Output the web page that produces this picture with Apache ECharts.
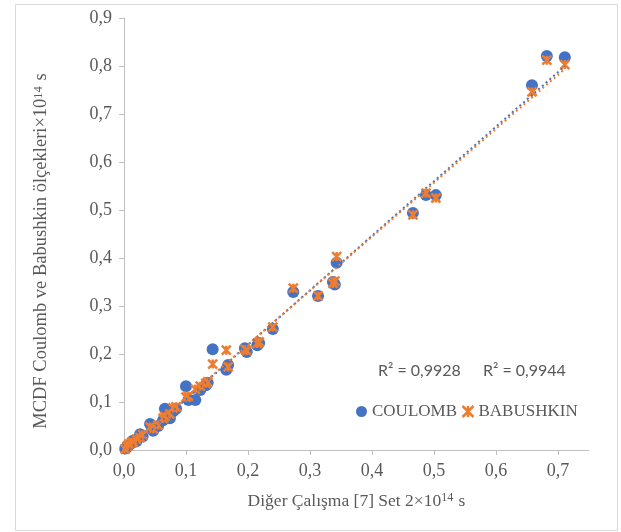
<!DOCTYPE html>
<html>
<head>
<meta charset="utf-8">
<script src="https://cdn.jsdelivr.net/npm/echarts@6/dist/echarts.min.js"></script>
<style>
  html, body { margin: 0; padding: 0; background: #fff; }
  #chart { width: 621px; height: 532px; }
</style>
</head>
<body>
<div id="chart"></div>
<script>
// x: Diğer Çalışma [7] Set 2
const xVals = [0.002, 0.005, 0.008, 0.012, 0.015, 0.020, 0.026, 0.030, 0.042, 0.047,
    0.055, 0.063, 0.066, 0.074, 0.079, 0.084, 0.100, 0.104, 0.115, 0.123,
    0.132, 0.135, 0.143, 0.165, 0.168, 0.195, 0.198, 0.215, 0.218, 0.240,
    0.273, 0.313, 0.337, 0.340, 0.343, 0.466, 0.487, 0.503, 0.658, 0.682, 0.711];
const coulomb = [0.003, 0.006, 0.010, 0.014, 0.020, 0.018, 0.033, 0.028, 0.054, 0.040,
    0.050, 0.062, 0.086, 0.066, 0.080, 0.086, 0.133, 0.104, 0.104, 0.125,
    0.135, 0.140, 0.210, 0.167, 0.177, 0.212, 0.204, 0.218, 0.223, 0.252,
    0.329, 0.321, 0.350, 0.345, 0.390, 0.494, 0.531, 0.531, 0.760, 0.821, 0.818];
const babushkin = [0.002, 0.008, 0.012, 0.016, 0.016, 0.022, 0.026, 0.032, 0.048, 0.044,
    0.052, 0.066, 0.070, 0.075, 0.088, 0.090, 0.110, 0.112, 0.127, 0.133,
    0.139, 0.142, 0.179, 0.208, 0.173, 0.210, 0.207, 0.222, 0.225, 0.256,
    0.337, 0.321, 0.347, 0.352, 0.403, 0.490, 0.535, 0.525, 0.746, 0.812, 0.803];
const r2Labels = ['R² = 0,9928', 'R² = 0,9944'];

const BLUE = '#4472C4';
const ORANGE = '#ED7D31';
const GREY = '#595959';
const STAR = 'path://M0,0L10,10M10,0L0,10M5,0L5,10';

function comma(v, d) {
    return v.toFixed(d).replace('.', ',');
}

// least squares trend line over the x range
function trend(xs, ys) {
    const n = xs.length;
    let sx = 0, sy = 0, sxx = 0, sxy = 0;
    for (let i = 0; i < n; i++) {
        sx += xs[i]; sy += ys[i]; sxx += xs[i] * xs[i]; sxy += xs[i] * ys[i];
    }
    const b = (n * sxy - sx * sy) / (n * sxx - sx * sx);
    const a = (sy - b * sx) / n;
    const x0 = Math.min(...xs), x1 = Math.max(...xs);
    return [[x0, a + b * x0], [x1, a + b * x1]];
}

const pairs = (ys) => xVals.map((x, i) => [x, ys[i]]);

const chart = echarts.init(document.getElementById('chart'));

const option = {
    animation: false,
    backgroundColor: '#fff',
    grid: {left: 124, right: 32, top: 18, bottom: 82},
    xAxis: {
        type: 'value', min: 0, max: 0.75, interval: 0.1,
        splitLine: {show: false},
        axisLine: {lineStyle: {color: '#BFBFBF'}},
        axisTick: {show: true, length: 5, lineStyle: {color: '#BFBFBF'}},
        axisLabel: {
            color: GREY, fontFamily: 'Liberation Serif', fontSize: 18, margin: 12,
            formatter: v => comma(v, 1),
            showMaxLabel: false
        },
        name: '{t|Diğer Çalışma [7] Set 2×10}{s|14}{t| s}',
        nameLocation: 'middle', nameGap: 42,
        nameTextStyle: {
            rich: {
                t: {fontFamily: 'Liberation Serif', fontSize: 17.5, color: GREY},
                s: {fontFamily: 'Liberation Serif', fontSize: 12, color: GREY, verticalAlign: 'top', padding: [0, 1, 6, 0]}
            }
        }
    },
    yAxis: {
        type: 'value', min: 0, max: 0.9, interval: 0.1,
        splitLine: {show: false},
        axisLine: {show: true, lineStyle: {color: '#BFBFBF'}},
        axisTick: {show: true, length: 5, lineStyle: {color: '#BFBFBF'}},
        axisLabel: {
            color: GREY, fontFamily: 'Liberation Serif', fontSize: 18, margin: 12,
            formatter: v => comma(v, 1)
        },
        name: '{t|MCDF Coulomb ve Babushkin ölçekleri×10}{s|14}{e| s}',
        nameLocation: 'middle', nameGap: 73, nameRotate: 90,
        nameTextStyle: {
            rich: {
                t: {fontFamily: 'Liberation Serif', fontSize: 18.5, color: GREY},
                s: {fontFamily: 'Liberation Serif', fontSize: 12.5, color: GREY, verticalAlign: 'top', padding: [0, 1, 6, 0]},
                e: {fontFamily: 'Liberation Serif', fontSize: 18.5, color: GREY, padding: [0, 34, 0, 0]}
            }
        }
    },
    legend: {
        left: 351, top: 398,
        itemGap: 3, itemWidth: 11, itemHeight: 11,
        textStyle: {fontFamily: 'Liberation Serif', fontSize: 17, color: GREY},
        data: [
            {name: 'COULOMB', icon: 'circle', itemStyle: {color: BLUE}},
            {name: 'BABUSHKIN', icon: STAR, itemStyle: {color: 'none', borderColor: ORANGE, borderWidth: 2.5}}
        ]
    },
    series: [
        {
            name: 'COULOMB', type: 'scatter', symbol: 'circle', symbolSize: 12,
            itemStyle: {color: BLUE, opacity: 1},
            data: pairs(coulomb), z: 2
        },
        {
            name: 'BABUSHKIN', type: 'scatter', symbol: STAR, symbolSize: 9,
            itemStyle: {color: 'none', borderColor: ORANGE, borderWidth: 2.5, opacity: 1},
            data: pairs(babushkin), z: 3
        },
        {
            name: 'COULOMB trend', type: 'line', symbol: 'none', silent: true,
            lineStyle: {color: BLUE, width: 2, type: [2, 3]},
            data: trend(xVals, coulomb), z: 4
        },
        {
            name: 'BABUSHKIN trend', type: 'line', symbol: 'none', silent: true,
            lineStyle: {color: ORANGE, width: 2, type: [2, 3], dashOffset: 2},
            data: trend(xVals, babushkin), z: 4
        }
    ],
    graphic: [
        {
            type: 'rect', left: 13, top: 2, silent: true,
            shape: {width: 602, height: 526},
            style: {fill: 'none', stroke: '#D9D9D9', lineWidth: 1}
        },
        {
            type: 'text', left: 378, top: 363,
            style: {text: r2Labels[0], font: '16px Lato', fill: GREY}
        },
        {
            type: 'text', left: 483, top: 363,
            style: {text: r2Labels[1], font: '16px Lato', fill: GREY}
        }
    ]
};

chart.setOption(option);
</script>
</body>
</html>
